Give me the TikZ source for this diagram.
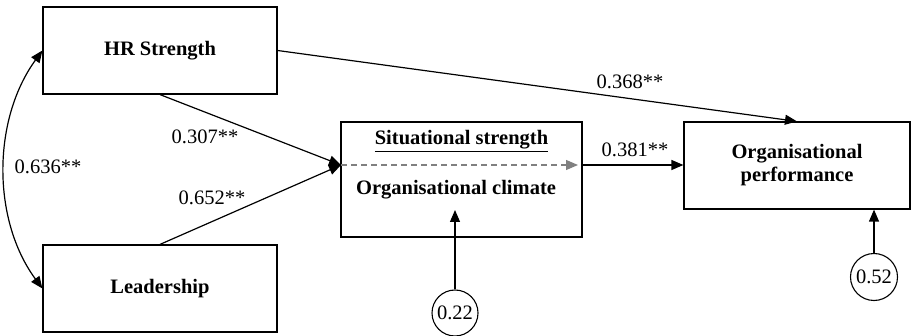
\documentclass[tikz,border=0pt]{standalone}
\usepackage{fontspec}
\setmainfont{Liberation Serif}
\usetikzlibrary{arrows.meta, positioning}

\tikzset{
  varbox/.style={draw, line width=1.2pt, minimum width=234pt, minimum height=87pt, inner sep=0pt, font=\fontsize{20.5}{23}\selectfont\bfseries},
  errnode/.style={circle, draw, line width=1.1pt, minimum size=46pt, inner sep=0pt},
  path/.style={line width=1.2pt, -{Triangle[length=12pt,width=10pt]}},
  coef/.style={inner sep=0pt}
}

\begin{document}
\begin{tikzpicture}[x=1pt, y=-1pt, font=\fontsize{20.5}{23}\selectfont]
  \useasboundingbox (0,0) rectangle (912,336);
  % Exogenous variables
  \node[varbox] (hr) at (160,50.5) {HR Strength};
  \node[varbox] (lead) at (160,288.5) {Leadership};
  % Mediator and outcome
  \node[varbox, minimum width=241pt, minimum height=115pt] (sit) at (461.5,179.5) {};
  \node[font=\fontsize{20.5}{23}\selectfont\bfseries] (sitlbl) at (461.5,141) {\underline{Situational strength}};
  \node[font=\fontsize{20.5}{23}\selectfont\bfseries] (climlbl) at (456,190) {Organisational climate};
  \node[varbox, minimum width=226pt, align=center] (perf) at (797,165.5) {Organisational\\performance};
  % Error terms
  \node[errnode] (e1) at (455,313) {0.22};
  \node[errnode, minimum size=47pt] (e2) at (874,277) {0.52};

  \coordinate (sitin) at (341,165);
  \coordinate (sitout) at (578,165);
  \coordinate (sitend) at (582,165);

  % Paths
  \draw[path] (hr.south) -- (sitin);
  \draw[path] (lead.north) -- (sitin);
  \draw[path] (hr.east) -- (perf.north);
  \draw[line width=1.2pt, gray, dash pattern=on 6pt off 4pt, -{Triangle[length=12pt,width=10pt]}] (sitin) -- (sitout);
  \draw[path] (sitend) -- (perf.west |- sitend);
  \draw[path] (e1.north) -- (455,210);
  \draw[path] (e2.north) -- (perf.south -| e2.north);
  \draw[line width=1.2pt, {Triangle[length=12pt,width=10pt]}-{Triangle[length=12pt,width=10pt]}]
    (hr.west) .. controls (-8,120) and (-8,220) .. (lead.west);

  % Coefficients
  \node[coef] (c1) at (205,137) {0.307**};
  \node[coef] (c2) at (212,198) {0.652**};
  \node[coef] (c3) at (48,167) {0.636**};
  \node[coef] (c4) at (630,82) {0.368**};
  \node[coef] (c5) at (635,150) {0.381**};
\end{tikzpicture}
\end{document}
